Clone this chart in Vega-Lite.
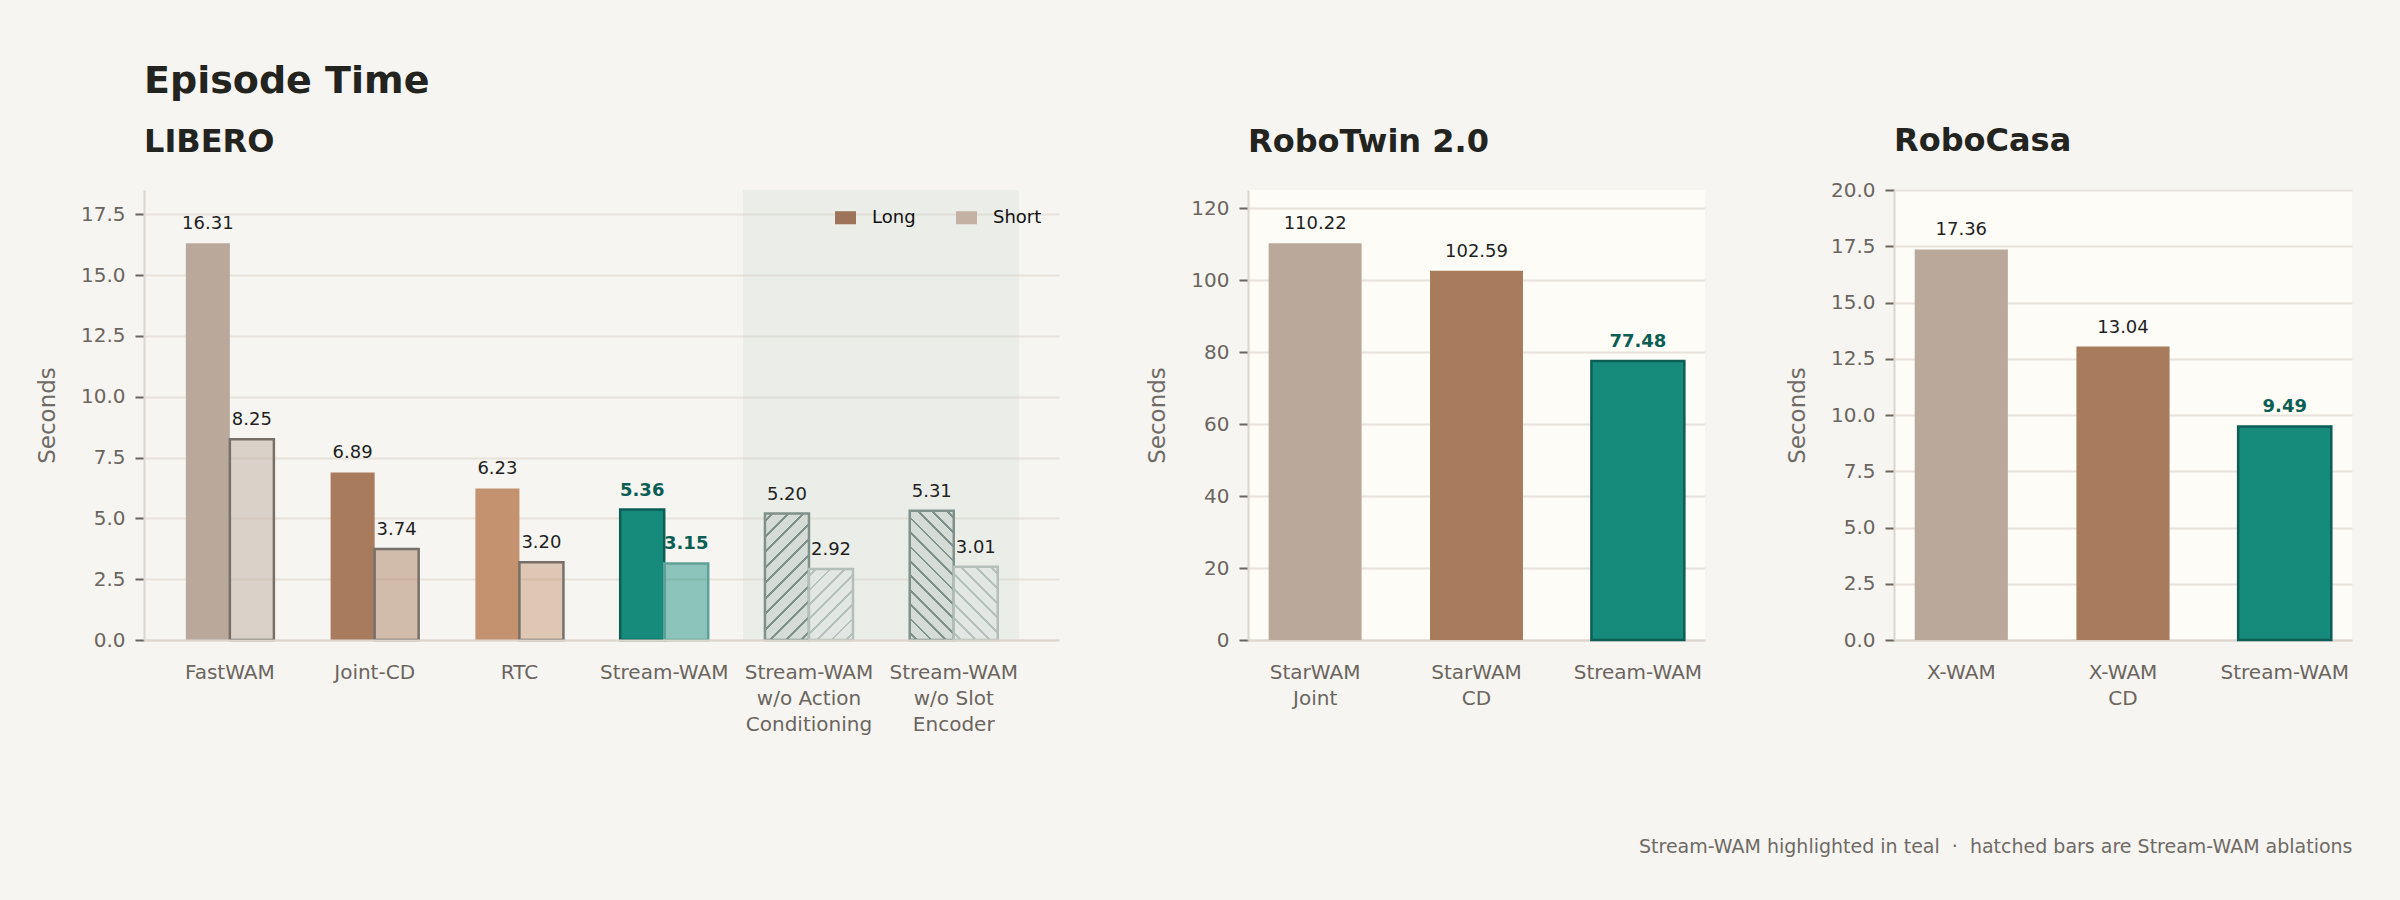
{
  "$schema": "https://vega.github.io/schema/vega-lite/v6.json",
  "background": "#f6f5f1",
  "padding": {"left": 36, "top": 62, "right": 48, "bottom": 45},
  "title": {
    "text": "Episode Time",
    "anchor": "start",
    "frame": "group",
    "fontSize": 38,
    "fontWeight": "bold",
    "color": "#232320",
    "offset": 24
  },
  "resolve": {"scale": {"color": "independent"}, "legend": {"color": "independent"}},
  "hconcat": [
    {
      "width": 915,
      "height": 450,
      "title": {"text": "LIBERO", "anchor": "start", "frame": "group", "fontSize": 32, "fontWeight": "bold", "color": "#232320", "offset": 31},
      "data": {
        "values": [
          {"method": "FastWAM", "length": "Long", "seconds": 16.31},
          {"method": "FastWAM", "length": "Short", "seconds": 8.25},
          {"method": "Joint-CD", "length": "Long", "seconds": 6.89},
          {"method": "Joint-CD", "length": "Short", "seconds": 3.74},
          {"method": "RTC", "length": "Long", "seconds": 6.23},
          {"method": "RTC", "length": "Short", "seconds": 3.20},
          {"method": "Stream-WAM", "length": "Long", "seconds": 5.36},
          {"method": "Stream-WAM", "length": "Short", "seconds": 3.15},
          {"method": "Stream-WAM\nw/o Action\nConditioning", "length": "Long", "seconds": 5.20},
          {"method": "Stream-WAM\nw/o Action\nConditioning", "length": "Short", "seconds": 2.92},
          {"method": "Stream-WAM\nw/o Slot\nEncoder", "length": "Long", "seconds": 5.31},
          {"method": "Stream-WAM\nw/o Slot\nEncoder", "length": "Short", "seconds": 3.01}
        ]
      },
      "layer": [
        {
          "data": {"values": [{"from": "Stream-WAM\nw/o Action\nConditioning", "to": "Stream-WAM\nw/o Slot\nEncoder"}]},
          "mark": {"type": "rect", "color": "#c6d3cf", "opacity": 0.22},
          "encoding": {
            "x": {"field": "from", "type": "nominal", "bandPosition": -0.25, "title": null},
            "x2": {"field": "to", "bandPosition": 1.24},
            "y": {"datum": 18.5, "type": "quantitative"},
            "y2": {"datum": 0}
          }
        },
        {
          "transform": [{"filter": "datum.length === 'Long' && indexof(datum.method, 'w/o') < 0"}],
          "mark": {"type": "bar", "strokeWidth": 2.5},
          "encoding": {
            "x": {
              "field": "method", "type": "nominal", "sort": null, "title": null,
              "scale": {
                "domain": ["FastWAM", "Joint-CD", "RTC", "Stream-WAM", "Stream-WAM\nw/o Action\nConditioning", "Stream-WAM\nw/o Slot\nEncoder"],
                "paddingInner": 0.392, "paddingOuter": 0.356, "align": 0.406
              },
              "axis": {"labelExpr": "split(datum.label, '\\n')"}
            },
            "xOffset": {"field": "length", "type": "nominal", "scale": {"domain": ["Long", "Short"], "paddingInner": 0, "paddingOuter": 0}},
            "y": {
              "field": "seconds", "type": "quantitative", "title": "Seconds",
              "scale": {"domain": [0, 18.5], "nice": false},
              "axis": {"values": [0, 2.5, 5, 7.5, 10, 12.5, 15, 17.5], "format": ".1f"}
            },
            "fill": {
              "condition": [
                {"test": "datum.method === 'FastWAM'", "value": "#baa99a"},
                {"test": "datum.method === 'Joint-CD'", "value": "#a87b5d"},
                {"test": "datum.method === 'RTC'", "value": "#c4926e"}
              ],
              "value": "#168a7b"
            },
            "stroke": {"condition": {"test": "datum.method === 'Stream-WAM'", "value": "#0d5f56"}, "value": "transparent"}
          }
        },
        {
          "transform": [{"filter": "datum.length === 'Short' && indexof(datum.method, 'w/o') < 0"}],
          "mark": {"type": "bar", "strokeWidth": 2.5, "fillOpacity": 0.47},
          "encoding": {
            "x": {"field": "method", "type": "nominal", "title": null},
            "xOffset": {"field": "length", "type": "nominal"},
            "y": {"field": "seconds", "type": "quantitative", "title": "Seconds"},
            "fill": {
              "condition": [
                {"test": "datum.method === 'FastWAM'", "value": "#baa99a"},
                {"test": "datum.method === 'Joint-CD'", "value": "#a87b5d"},
                {"test": "datum.method === 'RTC'", "value": "#c4926e"}
              ],
              "value": "#168a7b"
            },
            "stroke": {"condition": {"test": "datum.method === 'Stream-WAM'", "value": "#5fa197"}, "value": "#77706a"}
          }
        },
        {
          "transform": [{"filter": "datum.length === 'Long' && indexof(datum.method, 'Action') >= 0"}],
          "mark": {
            "type": "bar", "stroke": "#7f918a", "strokeWidth": 2.5,
            "fill": {
              "gradient": "linear", "x1": 0, "y1": 0, "x2": 0.4182, "y2": 1.2024,
              "stops": [
                {"offset": 0, "color": "#d5dcd7"},
                {"offset": 0.0375, "color": "#d5dcd7"}, {"offset": 0.0375, "color": "#7f918a"}, {"offset": 0.0535, "color": "#7f918a"}, {"offset": 0.0535, "color": "#d5dcd7"},
                {"offset": 0.1284, "color": "#d5dcd7"}, {"offset": 0.1284, "color": "#7f918a"}, {"offset": 0.1444, "color": "#7f918a"}, {"offset": 0.1444, "color": "#d5dcd7"},
                {"offset": 0.2193, "color": "#d5dcd7"}, {"offset": 0.2193, "color": "#7f918a"}, {"offset": 0.2353, "color": "#7f918a"}, {"offset": 0.2353, "color": "#d5dcd7"},
                {"offset": 0.3102, "color": "#d5dcd7"}, {"offset": 0.3102, "color": "#7f918a"}, {"offset": 0.3262, "color": "#7f918a"}, {"offset": 0.3262, "color": "#d5dcd7"},
                {"offset": 0.4011, "color": "#d5dcd7"}, {"offset": 0.4011, "color": "#7f918a"}, {"offset": 0.4171, "color": "#7f918a"}, {"offset": 0.4171, "color": "#d5dcd7"},
                {"offset": 0.492, "color": "#d5dcd7"}, {"offset": 0.492, "color": "#7f918a"}, {"offset": 0.508, "color": "#7f918a"}, {"offset": 0.508, "color": "#d5dcd7"},
                {"offset": 0.5829, "color": "#d5dcd7"}, {"offset": 0.5829, "color": "#7f918a"}, {"offset": 0.5989, "color": "#7f918a"}, {"offset": 0.5989, "color": "#d5dcd7"},
                {"offset": 0.6738, "color": "#d5dcd7"}, {"offset": 0.6738, "color": "#7f918a"}, {"offset": 0.6898, "color": "#7f918a"}, {"offset": 0.6898, "color": "#d5dcd7"},
                {"offset": 0.7647, "color": "#d5dcd7"}, {"offset": 0.7647, "color": "#7f918a"}, {"offset": 0.7807, "color": "#7f918a"}, {"offset": 0.7807, "color": "#d5dcd7"},
                {"offset": 0.8556, "color": "#d5dcd7"}, {"offset": 0.8556, "color": "#7f918a"}, {"offset": 0.8716, "color": "#7f918a"}, {"offset": 0.8716, "color": "#d5dcd7"},
                {"offset": 0.9465, "color": "#d5dcd7"}, {"offset": 0.9465, "color": "#7f918a"}, {"offset": 0.9625, "color": "#7f918a"}, {"offset": 0.9625, "color": "#d5dcd7"},
                {"offset": 1, "color": "#d5dcd7"}
              ]
            }
          },
          "encoding": {
            "x": {"field": "method", "type": "nominal", "title": null},
            "xOffset": {"field": "length", "type": "nominal"},
            "y": {"field": "seconds", "type": "quantitative", "title": "Seconds"}
          }
        },
        {
          "transform": [{"filter": "datum.length === 'Short' && indexof(datum.method, 'Action') >= 0"}],
          "mark": {
            "type": "bar", "stroke": "#b5bfb9", "strokeWidth": 2.5,
            "fill": {
              "gradient": "linear", "x1": 0, "y1": 0, "x2": 0.7252, "y2": 1.1703,
              "stops": [
                {"offset": 0, "color": "#e2e7e3"},
                {"offset": 0.0505, "color": "#e2e7e3"}, {"offset": 0.0505, "color": "#b7c1bb"}, {"offset": 0.0745, "color": "#b7c1bb"}, {"offset": 0.0745, "color": "#e2e7e3"},
                {"offset": 0.1755, "color": "#e2e7e3"}, {"offset": 0.1755, "color": "#b7c1bb"}, {"offset": 0.1995, "color": "#b7c1bb"}, {"offset": 0.1995, "color": "#e2e7e3"},
                {"offset": 0.3005, "color": "#e2e7e3"}, {"offset": 0.3005, "color": "#b7c1bb"}, {"offset": 0.3245, "color": "#b7c1bb"}, {"offset": 0.3245, "color": "#e2e7e3"},
                {"offset": 0.4255, "color": "#e2e7e3"}, {"offset": 0.4255, "color": "#b7c1bb"}, {"offset": 0.4495, "color": "#b7c1bb"}, {"offset": 0.4495, "color": "#e2e7e3"},
                {"offset": 0.5505, "color": "#e2e7e3"}, {"offset": 0.5505, "color": "#b7c1bb"}, {"offset": 0.5745, "color": "#b7c1bb"}, {"offset": 0.5745, "color": "#e2e7e3"},
                {"offset": 0.6755, "color": "#e2e7e3"}, {"offset": 0.6755, "color": "#b7c1bb"}, {"offset": 0.6995, "color": "#b7c1bb"}, {"offset": 0.6995, "color": "#e2e7e3"},
                {"offset": 0.8005, "color": "#e2e7e3"}, {"offset": 0.8005, "color": "#b7c1bb"}, {"offset": 0.8245, "color": "#b7c1bb"}, {"offset": 0.8245, "color": "#e2e7e3"},
                {"offset": 0.9255, "color": "#e2e7e3"}, {"offset": 0.9255, "color": "#b7c1bb"}, {"offset": 0.9495, "color": "#b7c1bb"}, {"offset": 0.9495, "color": "#e2e7e3"},
                {"offset": 1, "color": "#e2e7e3"}
              ]
            }
          },
          "encoding": {
            "x": {"field": "method", "type": "nominal", "title": null},
            "xOffset": {"field": "length", "type": "nominal"},
            "y": {"field": "seconds", "type": "quantitative", "title": "Seconds"}
          }
        },
        {
          "transform": [{"filter": "datum.length === 'Long' && indexof(datum.method, 'Slot') >= 0"}],
          "mark": {
            "type": "bar", "stroke": "#7f918a", "strokeWidth": 2.5,
            "fill": {
              "gradient": "linear", "x1": 1, "y1": 0, "x2": 0.5909, "y2": 1.2012,
              "stops": [
                {"offset": 0, "color": "#d5dcd7"},
                {"offset": 0.0337, "color": "#d5dcd7"}, {"offset": 0.0337, "color": "#7f918a"}, {"offset": 0.0497, "color": "#7f918a"}, {"offset": 0.0497, "color": "#d5dcd7"},
                {"offset": 0.117, "color": "#d5dcd7"}, {"offset": 0.117, "color": "#7f918a"}, {"offset": 0.133, "color": "#7f918a"}, {"offset": 0.133, "color": "#d5dcd7"},
                {"offset": 0.2003, "color": "#d5dcd7"}, {"offset": 0.2003, "color": "#7f918a"}, {"offset": 0.2163, "color": "#7f918a"}, {"offset": 0.2163, "color": "#d5dcd7"},
                {"offset": 0.2837, "color": "#d5dcd7"}, {"offset": 0.2837, "color": "#7f918a"}, {"offset": 0.2997, "color": "#7f918a"}, {"offset": 0.2997, "color": "#d5dcd7"},
                {"offset": 0.367, "color": "#d5dcd7"}, {"offset": 0.367, "color": "#7f918a"}, {"offset": 0.383, "color": "#7f918a"}, {"offset": 0.383, "color": "#d5dcd7"},
                {"offset": 0.4503, "color": "#d5dcd7"}, {"offset": 0.4503, "color": "#7f918a"}, {"offset": 0.4663, "color": "#7f918a"}, {"offset": 0.4663, "color": "#d5dcd7"},
                {"offset": 0.5337, "color": "#d5dcd7"}, {"offset": 0.5337, "color": "#7f918a"}, {"offset": 0.5497, "color": "#7f918a"}, {"offset": 0.5497, "color": "#d5dcd7"},
                {"offset": 0.617, "color": "#d5dcd7"}, {"offset": 0.617, "color": "#7f918a"}, {"offset": 0.633, "color": "#7f918a"}, {"offset": 0.633, "color": "#d5dcd7"},
                {"offset": 0.7003, "color": "#d5dcd7"}, {"offset": 0.7003, "color": "#7f918a"}, {"offset": 0.7163, "color": "#7f918a"}, {"offset": 0.7163, "color": "#d5dcd7"},
                {"offset": 0.7837, "color": "#d5dcd7"}, {"offset": 0.7837, "color": "#7f918a"}, {"offset": 0.7997, "color": "#7f918a"}, {"offset": 0.7997, "color": "#d5dcd7"},
                {"offset": 0.867, "color": "#d5dcd7"}, {"offset": 0.867, "color": "#7f918a"}, {"offset": 0.883, "color": "#7f918a"}, {"offset": 0.883, "color": "#d5dcd7"},
                {"offset": 0.9503, "color": "#d5dcd7"}, {"offset": 0.9503, "color": "#7f918a"}, {"offset": 0.9663, "color": "#7f918a"}, {"offset": 0.9663, "color": "#d5dcd7"},
                {"offset": 1, "color": "#d5dcd7"}
              ]
            }
          },
          "encoding": {
            "x": {"field": "method", "type": "nominal", "title": null},
            "xOffset": {"field": "length", "type": "nominal"},
            "y": {"field": "seconds", "type": "quantitative", "title": "Seconds"}
          }
        },
        {
          "transform": [{"filter": "datum.length === 'Short' && indexof(datum.method, 'Slot') >= 0"}],
          "mark": {
            "type": "bar", "stroke": "#b5bfb9", "strokeWidth": 2.5,
            "fill": {
              "gradient": "linear", "x1": 1, "y1": 0, "x2": 0.293, "y2": 1.1762,
              "stops": [
                {"offset": 0, "color": "#e2e7e3"},
                {"offset": 0.0505, "color": "#e2e7e3"}, {"offset": 0.0505, "color": "#b7c1bb"}, {"offset": 0.0745, "color": "#b7c1bb"}, {"offset": 0.0745, "color": "#e2e7e3"},
                {"offset": 0.1755, "color": "#e2e7e3"}, {"offset": 0.1755, "color": "#b7c1bb"}, {"offset": 0.1995, "color": "#b7c1bb"}, {"offset": 0.1995, "color": "#e2e7e3"},
                {"offset": 0.3005, "color": "#e2e7e3"}, {"offset": 0.3005, "color": "#b7c1bb"}, {"offset": 0.3245, "color": "#b7c1bb"}, {"offset": 0.3245, "color": "#e2e7e3"},
                {"offset": 0.4255, "color": "#e2e7e3"}, {"offset": 0.4255, "color": "#b7c1bb"}, {"offset": 0.4495, "color": "#b7c1bb"}, {"offset": 0.4495, "color": "#e2e7e3"},
                {"offset": 0.5505, "color": "#e2e7e3"}, {"offset": 0.5505, "color": "#b7c1bb"}, {"offset": 0.5745, "color": "#b7c1bb"}, {"offset": 0.5745, "color": "#e2e7e3"},
                {"offset": 0.6755, "color": "#e2e7e3"}, {"offset": 0.6755, "color": "#b7c1bb"}, {"offset": 0.6995, "color": "#b7c1bb"}, {"offset": 0.6995, "color": "#e2e7e3"},
                {"offset": 0.8005, "color": "#e2e7e3"}, {"offset": 0.8005, "color": "#b7c1bb"}, {"offset": 0.8245, "color": "#b7c1bb"}, {"offset": 0.8245, "color": "#e2e7e3"},
                {"offset": 0.9255, "color": "#e2e7e3"}, {"offset": 0.9255, "color": "#b7c1bb"}, {"offset": 0.9495, "color": "#b7c1bb"}, {"offset": 0.9495, "color": "#e2e7e3"},
                {"offset": 1, "color": "#e2e7e3"}
              ]
            }
          },
          "encoding": {
            "x": {"field": "method", "type": "nominal", "title": null},
            "xOffset": {"field": "length", "type": "nominal"},
            "y": {"field": "seconds", "type": "quantitative", "title": "Seconds"}
          }
        },
        {
          "transform": [{"filter": "datum.method !== 'Stream-WAM'"}],
          "mark": {"type": "text", "baseline": "alphabetic", "dy": -14, "fontSize": 18, "color": "#1f1f1f"},
          "encoding": {
            "x": {"field": "method", "type": "nominal", "title": null},
            "xOffset": {"field": "length", "type": "nominal"},
            "y": {"field": "seconds", "type": "quantitative", "title": "Seconds"},
            "text": {"field": "seconds", "type": "quantitative", "format": ".2f"}
          }
        },
        {
          "transform": [{"filter": "datum.method === 'Stream-WAM'"}],
          "mark": {"type": "text", "baseline": "alphabetic", "dy": -14, "fontSize": 18, "fontWeight": "bold", "color": "#0b5e54"},
          "encoding": {
            "x": {"field": "method", "type": "nominal", "title": null},
            "xOffset": {"field": "length", "type": "nominal"},
            "y": {"field": "seconds", "type": "quantitative", "title": "Seconds"},
            "text": {"field": "seconds", "type": "quantitative", "format": ".2f"}
          }
        },
        {
          "transform": [{"filter": "false"}],
          "mark": {"type": "square"},
          "encoding": {
            "color": {
              "field": "length", "type": "nominal",
              "scale": {"domain": ["Long", "Short"], "range": ["#9d7459", "#c5b1a3"]},
              "legend": {
                "title": null, "orient": "top-right", "direction": "horizontal", "offset": 17, "padding": 0,
                "symbolType": "M-1,-0.62H1V0.62H-1Z", "symbolSize": 441, "symbolStrokeWidth": 0, "symbolOpacity": 1,
                "labelFontSize": 18, "labelColor": "#111111", "labelOffset": 16, "columnPadding": 40
              }
            }
          }
        }
      ]
    },
    {
      "width": 457,
      "height": 450,
      "title": {"text": "RoboTwin 2.0", "anchor": "start", "frame": "group", "fontSize": 32, "fontWeight": "bold", "color": "#232320", "offset": 31},
      "data": {
        "values": [
          {"method": "StarWAM\nJoint", "seconds": 110.22},
          {"method": "StarWAM\nCD", "seconds": 102.59},
          {"method": "Stream-WAM", "seconds": 77.48}
        ]
      },
      "layer": [
        {
          "mark": {"type": "bar", "strokeWidth": 2.5},
          "encoding": {
            "x": {
              "field": "method", "type": "nominal", "sort": null, "title": null,
              "scale": {"paddingInner": 0.424, "paddingOuter": 0.128},
              "axis": {"labelExpr": "split(datum.label, '\\n')"}
            },
            "y": {
              "field": "seconds", "type": "quantitative", "title": "Seconds",
              "scale": {"domain": [0, 125], "nice": false},
              "axis": {"values": [0, 20, 40, 60, 80, 100, 120], "format": "d"}
            },
            "fill": {
              "condition": [
                {"test": "datum.method === 'StarWAM\\nJoint'", "value": "#baa99a"},
                {"test": "datum.method === 'StarWAM\\nCD'", "value": "#a87b5d"}
              ],
              "value": "#168a7b"
            },
            "stroke": {"condition": {"test": "datum.method === 'Stream-WAM'", "value": "#0d5f56"}, "value": "transparent"}
          }
        },
        {
          "transform": [{"filter": "datum.method !== 'Stream-WAM'"}],
          "mark": {"type": "text", "baseline": "alphabetic", "dy": -14, "fontSize": 18, "color": "#1f1f1f"},
          "encoding": {
            "x": {"field": "method", "type": "nominal", "sort": null, "title": null},
            "y": {"field": "seconds", "type": "quantitative", "title": "Seconds"},
            "text": {"field": "seconds", "type": "quantitative", "format": ".2f"}
          }
        },
        {
          "transform": [{"filter": "datum.method === 'Stream-WAM'"}],
          "mark": {"type": "text", "baseline": "alphabetic", "dy": -14, "fontSize": 18, "fontWeight": "bold", "color": "#0b5e54"},
          "encoding": {
            "x": {"field": "method", "type": "nominal", "sort": null, "title": null},
            "y": {"field": "seconds", "type": "quantitative", "title": "Seconds"},
            "text": {"field": "seconds", "type": "quantitative", "format": ".2f"}
          }
        }
      ]
    },
    {
      "width": 458,
      "height": 450,
      "title": {"text": "RoboCasa", "anchor": "start", "frame": "group", "fontSize": 32, "fontWeight": "bold", "color": "#232320", "offset": 22.5},
      "data": {
        "values": [
          {"method": "X-WAM", "seconds": 17.36},
          {"method": "X-WAM\nCD", "seconds": 13.04},
          {"method": "Stream-WAM", "seconds": 9.49}
        ]
      },
      "layer": [
        {
          "mark": {"type": "bar", "strokeWidth": 2.5},
          "encoding": {
            "x": {
              "field": "method", "type": "nominal", "sort": null,
              "title": "Stream-WAM highlighted in teal \u00a0·\u00a0 hatched bars are Stream-WAM ablations",
              "scale": {"paddingInner": 0.424, "paddingOuter": 0.128},
              "axis": {
                "labelExpr": "split(datum.label, '\\n')",
                "titleAnchor": "end", "titleFontSize": 19, "titleColor": "#6e6a66", "titlePadding": 129
              }
            },
            "y": {
              "field": "seconds", "type": "quantitative", "title": "Seconds",
              "scale": {"domain": [0, 20], "nice": false},
              "axis": {"values": [0, 2.5, 5, 7.5, 10, 12.5, 15, 17.5, 20], "format": ".1f"}
            },
            "fill": {
              "condition": [
                {"test": "datum.method === 'X-WAM'", "value": "#baa99a"},
                {"test": "datum.method === 'X-WAM\\nCD'", "value": "#a87b5d"}
              ],
              "value": "#168a7b"
            },
            "stroke": {"condition": {"test": "datum.method === 'Stream-WAM'", "value": "#0d5f56"}, "value": "transparent"}
          }
        },
        {
          "transform": [{"filter": "datum.method !== 'Stream-WAM'"}],
          "mark": {"type": "text", "baseline": "alphabetic", "dy": -14, "fontSize": 18, "color": "#1f1f1f"},
          "encoding": {
            "x": {"field": "method", "type": "nominal", "sort": null},
            "y": {"field": "seconds", "type": "quantitative", "title": "Seconds"},
            "text": {"field": "seconds", "type": "quantitative", "format": ".2f"}
          }
        },
        {
          "transform": [{"filter": "datum.method === 'Stream-WAM'"}],
          "mark": {"type": "text", "baseline": "alphabetic", "dy": -14, "fontSize": 18, "fontWeight": "bold", "color": "#0b5e54"},
          "encoding": {
            "x": {"field": "method", "type": "nominal", "sort": null},
            "y": {"field": "seconds", "type": "quantitative", "title": "Seconds"},
            "text": {"field": "seconds", "type": "quantitative", "format": ".2f"}
          }
        }
      ]
    }
  ],
  "spacing": 189,
  "bounds": "flush",
  "config": {
    "font": "DejaVu Sans",
    "view": {"fill": "#fdfcf7", "stroke": null},
    "axis": {
      "labelFont": "DejaVu Sans", "labelFontSize": 20, "labelColor": "#6b6560",
      "titleFont": "DejaVu Sans", "titleFontSize": 23, "titleFontWeight": "normal", "titleColor": "#6e6a66",
      "domainColor": "#dcd6cf", "domainWidth": 2,
      "tickColor": "#6b6560", "tickWidth": 2, "tickSize": 9,
      "gridColor": "#e7e2db", "gridWidth": 2
    },
    "axisX": {"ticks": false, "grid": false, "labelAngle": 0, "labelPadding": 22, "labelLineHeight": 26, "labelLimit": 400},
    "axisY": {"labelPadding": 10, "titlePadding": 21, "grid": true},
    "legend": {"labelFont": "DejaVu Sans"},
    "title": {"font": "DejaVu Sans"}
  }
}
